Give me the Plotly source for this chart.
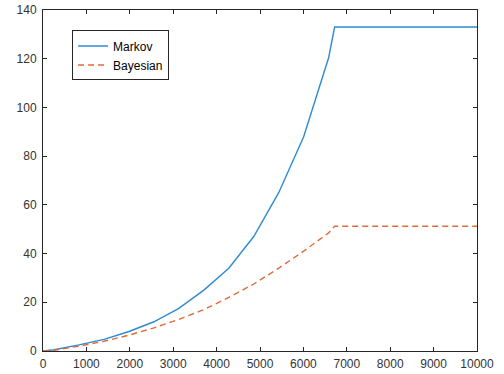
import plotly.graph_objects as go

x_vals = [0, 256, 831, 1406, 1981, 2556, 3131, 3706, 4281, 4856, 5431, 6006, 6581, 6720, 10000]
markov = [0, 0.5, 2.5, 4.8, 8.0, 12.0, 17.5, 25.0, 34.0, 47.0, 65.0, 88.0, 120.4, 133.0, 133.0]
bayesian = [0, 0.3, 2.0, 4.0, 6.5, 9.5, 13.0, 17.0, 22.0, 27.5, 34.0, 41.0, 48.5, 51.2, 51.2]

x_ticks = list(range(0, 10001, 1000))
y_ticks = list(range(0, 141, 20))

fig = go.Figure()
fig.add_trace(go.Scatter(x=x_vals, y=markov, mode="lines", name="Markov",
                         line=dict(color="#2f8ad0", width=1.4)))
fig.add_trace(go.Scatter(x=x_vals, y=bayesian, mode="lines", name="Bayesian",
                         line=dict(color="#e06a3a", width=1.4, dash="6px,4px")))

axis_common = dict(showgrid=False, zeroline=False, showline=True, linecolor="#262626",
                   linewidth=1, mirror="ticks", ticks="inside", ticklen=4,
                   tickcolor="#262626", automargin=False,
                   tickfont=dict(family="Liberation Sans, Arial", size=12, color="#333333"))

fig.update_layout(
    width=504, height=374,
    margin=dict(l=43, r=27, t=10, b=23, autoexpand=False),
    paper_bgcolor="white", plot_bgcolor="white",
    xaxis=dict(range=[0, 10000], tickvals=x_ticks, ticktext=[str(v) for v in x_ticks],
               ticklabelstandoff=2, **axis_common),
    yaxis=dict(range=[0, 140], tickvals=y_ticks, ticktext=[str(v) for v in y_ticks],
               ticklabelstandoff=3, **axis_common),
    legend=dict(x=0.067, y=0.94, xanchor="left", yanchor="top",
                bordercolor="#262626", borderwidth=1, bgcolor="white",
                font=dict(family="Liberation Sans, Arial", size=12, color="#000000"),
                tracegroupgap=0, itemwidth=30),
    showlegend=True,
)

fig.write_html("out.html", config={"displayModeBar": False},
               post_script="document.body.style.margin='0';")
